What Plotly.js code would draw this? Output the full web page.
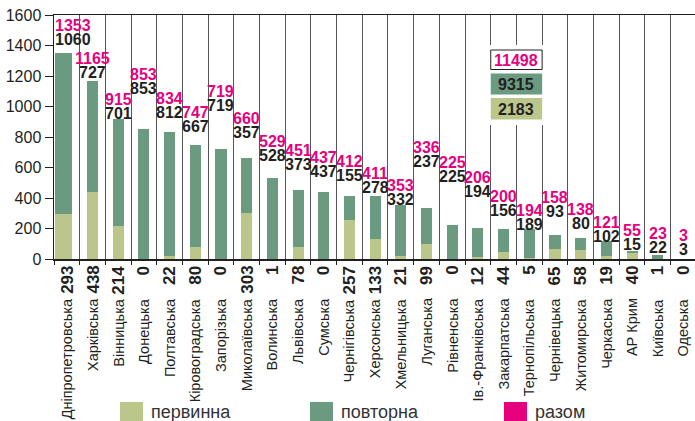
<!DOCTYPE html>
<html>
<head>
<meta charset="utf-8">
<script src="https://cdn.plot.ly/plotly-3.0.1.min.js"></script>
<style>html,body{margin:0;padding:0;background:#fff;}#chart{width:695px;height:421px;}</style>
</head>
<body>
<div id="chart"></div>
<script>
// ---- data ----
var regions = ['Дніпропетровська','Харківська','Вінницька','Донецька','Полтавська','Кіровоградська','Запорізька','Миколаївська','Волинська','Львівська','Сумська','Чернігівська','Херсонська','Хмельницька','Луганська','Рівненська','Ів.-Франківська','Закарпатська','Тернопільська','Чернівецька','Житомирська','Черкаська','АР Крим','Київська','Одеська'];
var primary = [293,438,214,0,22,80,0,303,1,78,0,257,133,21,99,0,12,44,5,65,58,19,40,1,0];
var repeat  = [1060,727,701,853,812,667,719,357,528,373,437,155,278,332,237,225,194,156,189,93,80,102,15,22,3];
var totals  = [1353,1165,915,853,834,747,719,660,529,451,437,412,411,353,336,225,206,200,194,158,138,121,55,23,3];
var sumTotal = 11498, sumRepeat = 9315, sumPrimary = 2183;
var legendNames = ['первинна','повторна','разом'];

// ---- styling / placement (not data) ----
var cPrimary = '#bbc68b', cRepeat = '#6a9a80', cTotal = '#e6007e', cText = '#231f20';
var labelLift = [8,3,0,35,14,13,38,20,17,20,15,15,3,0,41,43,31,13,-1,18,9,-1,1,2,4];
var labelShiftX = [6,0,0,0,0,0,0,0,0,0,0,0,0,0,0,0,0,0,0,0,0,0,0,0,0];
var barW = [], barOff = [];
for (var j = 0; j < regions.length; j++) { barW.push(j === 0 ? 0.65 : 0.43); barOff.push(j === 0 ? -0.46 : -0.215); }
var FONT = 'Liberation Sans, Arial, sans-serif';
var W = 695, H = 421, ML = 54, MR = 0, MT = 15, MB = 162;
var PW = W - ML - MR, PH = H - MT - MB;
function px2x(p){ return (p - ML) / PW; }
function py2y(p){ return (H - MB - p) / PH; }

var traces = [
  {type:'bar', x: regions, y: primary, name: legendNames[0], marker:{color:cPrimary}, width:barW, offset:barOff, showlegend:false, hoverinfo:'x+y'},
  {type:'bar', x: regions, y: repeat, name: legendNames[1], marker:{color:cRepeat}, width:barW, offset:barOff, showlegend:false, hoverinfo:'x+y'}
];

var annotations = [];
var shapes = [];
var baseShift = -5;
for (var i = 0; i < regions.length; i++) {
  annotations.push({x: regions[i], y: totals[i], xref:'x', yref:'y', text:'<b>'+totals[i]+'</b>', showarrow:false,
    yanchor:'bottom', xanchor:'center', xshift: labelShiftX[i], yshift: labelLift[i] + 14 + baseShift, font:{family:FONT, size:16, color:cTotal}});
  annotations.push({x: regions[i], y: totals[i], xref:'x', yref:'y', text:'<b>'+repeat[i]+'</b>', showarrow:false,
    yanchor:'bottom', xanchor:'center', xshift: labelShiftX[i], yshift: labelLift[i] + baseShift, font:{family:FONT, size:16, color:cText}});
  annotations.push({x: regions[i], y: 0, xref:'x', yref:'y', text:'<b>'+primary[i]+'</b>', showarrow:false, textangle:-90,
    yanchor:'top', xanchor:'center', yshift:-5, font:{family:FONT, size:17, color:cText}});
  annotations.push({x: regions[i], y: 0, xref:'x', yref:'y', text:regions[i], showarrow:false, textangle:-90,
    yanchor:'top', xanchor:'center', yshift:-37, font:{family:FONT, size:14.5, color:cText}});
}

// summary boxes
shapes.push({type:'rect', xref:'paper', yref:'paper', x0:px2x(486), x1:px2x(547), y0:py2y(125), y1:py2y(45), fillcolor:'#fff', line:{width:0}, layer:'above'});
shapes.push({type:'rect', xref:'x', yref:'paper', x0:16.5, x1:18.5, y0:py2y(69.5), y1:py2y(50), fillcolor:'#fff', line:{color:'#231f20', width:1}, layer:'above'});
shapes.push({type:'rect', xref:'x', yref:'paper', x0:16.5, x1:18.5, y0:py2y(94.5), y1:py2y(73.5), fillcolor:cRepeat, line:{width:0}, layer:'above'});
shapes.push({type:'rect', xref:'x', yref:'paper', x0:16.5, x1:18.5, y0:py2y(119.5), y1:py2y(98), fillcolor:cPrimary, line:{width:0}, layer:'above'});
var boxVals = [sumTotal, sumRepeat, sumPrimary], boxCols = [cTotal, cText, cText], boxY = [60, 84, 109];
for (var b = 0; b < 3; b++) {
  annotations.push({x:17.5, xref:'x', y:py2y(boxY[b]), yref:'paper', text:'<b>'+boxVals[b]+'</b>', showarrow:false,
    xanchor:'center', yanchor:'middle', font:{family:FONT, size:16, color:boxCols[b]}});
}

// legend
var legCols = [cPrimary, cRepeat, cTotal], legX = [120, 310, 504];
for (var k = 0; k < 3; k++) {
  shapes.push({type:'rect', xref:'paper', yref:'paper', x0:px2x(legX[k]), x1:px2x(legX[k]+23), y0:py2y(421), y1:py2y(402), fillcolor:legCols[k], line:{width:0}});
  annotations.push({x:px2x(legX[k]+29), xref:'paper', y:py2y(411.5), yref:'paper', text:legendNames[k], showarrow:false,
    xanchor:'left', yanchor:'middle', font:{family:FONT, size:18, color:'#333'}});
}

var layout = {
  width: W, height: H,
  margin: {l:ML, r:MR, t:MT, b:MB, pad:0},
  paper_bgcolor:'#fff', plot_bgcolor:'#fff',
  barmode:'stack', showlegend:false,
  font:{family:FONT, color:cText},
  xaxis: {type:'category', range:[-0.5, 24.45], tickson:'boundaries', ticks:'outside', ticklen:4, tickcolor:'#231f20',
    showticklabels:false, showgrid:true, gridcolor:'#555', gridwidth:1,
    showline:true, linecolor:'#231f20', linewidth:1.5, mirror:true, fixedrange:true},
  yaxis: {range:[0,1600], dtick:200, tick0:0, ticks:'outside', ticklen:8, tickcolor:'#231f20', showgrid:false, zeroline:false,
    showline:true, linecolor:'#231f20', linewidth:1.5, tickfont:{family:FONT, size:16, color:cText}, fixedrange:true},
  annotations: annotations,
  shapes: shapes
};
Plotly.newPlot('chart', traces, layout, {displayModeBar:false, staticPlot:true});
</script>
</body>
</html>
